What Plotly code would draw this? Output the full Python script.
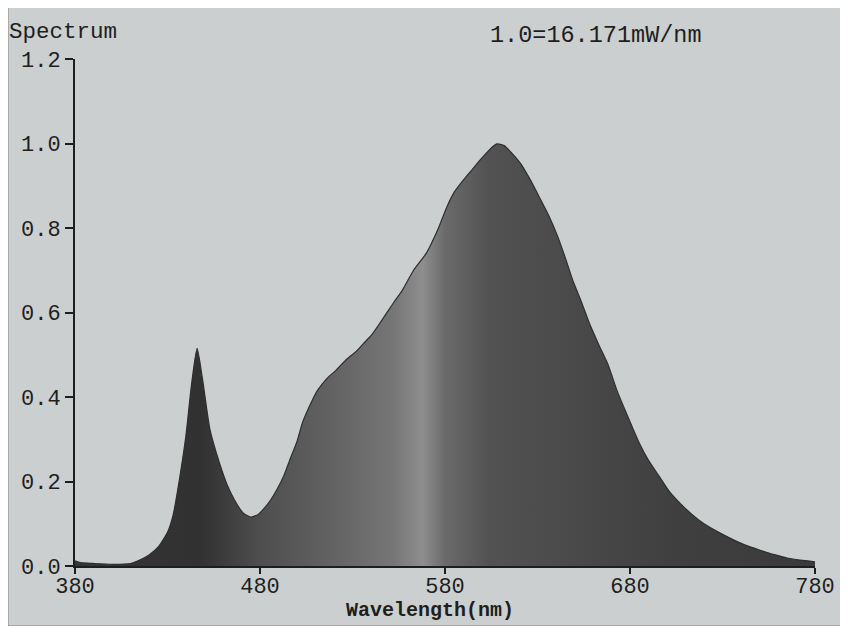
import plotly.graph_objects as go

wavelength = [380, 383, 390, 400, 410, 415, 420, 425, 430, 433, 437, 440, 443, 446,
              449, 453, 458, 462, 466, 471, 475, 479, 482, 486, 489, 493, 496, 500,
              503, 508, 511, 516, 521, 527, 532, 536, 540, 545, 552, 557, 563, 570,
              576, 581, 585, 590, 595, 599, 604, 608, 612, 616, 621, 626, 631, 636,
              641, 645, 649, 654, 658, 663, 668, 673, 678, 685, 690, 696, 701, 707,
              713, 720, 727, 734, 742, 750, 758, 765, 772, 780]
intensity = [0.012, 0.008, 0.006, 0.004, 0.006, 0.014, 0.026, 0.045, 0.08, 0.12, 0.22,
             0.31, 0.43, 0.515, 0.44, 0.322, 0.245, 0.195, 0.158, 0.125, 0.116, 0.122,
             0.135, 0.158, 0.18, 0.215, 0.25, 0.295, 0.34, 0.39, 0.415, 0.443, 0.463,
             0.49, 0.508, 0.527, 0.545, 0.576, 0.622, 0.653, 0.70, 0.741, 0.795, 0.85,
             0.885, 0.914, 0.94, 0.961, 0.985, 0.999, 0.995, 0.978, 0.952, 0.915,
             0.873, 0.83, 0.779, 0.73, 0.677, 0.622, 0.575, 0.525, 0.478, 0.415,
             0.362, 0.291, 0.25, 0.211, 0.178, 0.149, 0.124, 0.100, 0.082, 0.066,
             0.05, 0.038, 0.027, 0.019, 0.014, 0.01]

x_ticks = [380, 480, 580, 680, 780]
y_ticks = [0.0, 0.2, 0.4, 0.6, 0.8, 1.0, 1.2]
y_tick_labels = ["0.0", "0.2", "0.4", "0.6", "0.8", "1.0", "1.2"]

FONT = "Liberation Mono"
BG = "#cbcfcf"
INK = "#1e1e1e"

fig = go.Figure()
fig.add_trace(go.Scatter(
    x=wavelength, y=intensity, mode="lines",
    line=dict(color="#2e2e2e", width=1.2, shape="spline", smoothing=0.6),
    fill="tozeroy",
    fillgradient=dict(
        type="horizontal",
        colorscale=[[0.0, "#363636"], [0.17, "#313131"], [0.25, "#4e4e4e"],
                    [0.35, "#636363"], [0.43, "#767676"], [0.47, "#8e8e8e"],
                    [0.5, "#6a6a6a"], [0.56, "#525252"], [0.8, "#404040"],
                    [1.0, "#3a3a3a"]],
    ),
    hoverinfo="skip", showlegend=False,
))

# Page body has an 8px margin; the figure is sized so the plot area lands
# where the reference has it.
fig.update_layout(
    width=832, height=618,
    margin=dict(l=67, r=25, t=51, b=60, autoexpand=False),
    paper_bgcolor=BG, plot_bgcolor=BG,
    font=dict(family=FONT, size=22, color=INK),
    showlegend=False,
    xaxis=dict(
        range=[380, 780], tickvals=x_ticks, ticktext=[str(v) for v in x_ticks],
        showgrid=False, zeroline=False, showline=True, linecolor=INK,
        linewidth=2, ticks="outside", ticklen=6, tickwidth=2, tickcolor=INK,
        ticklabelstandoff=-7, automargin=False,
        tickfont=dict(family=FONT, size=22, color=INK),
    ),
    yaxis=dict(
        range=[0, 1.2], tickvals=y_ticks, ticktext=y_tick_labels,
        showgrid=False, zeroline=False, showline=True, linecolor=INK,
        linewidth=2, ticks="outside", ticklen=8, tickwidth=2, tickcolor=INK,
        automargin=False,
        tickfont=dict(family=FONT, size=22, color=INK),
    ),
    annotations=[
        dict(text="Spectrum", xref="paper", yref="paper", x=-0.092, y=1.053,
             xanchor="left", yanchor="middle", showarrow=False,
             font=dict(family=FONT, size=22.5, color=INK)),
        dict(text="1.0=16.171mW/nm", xref="paper", yref="paper", x=0.558, y=1.046,
             xanchor="left", yanchor="middle", showarrow=False,
             font=dict(family=FONT, size=23.5, color=INK)),
        dict(text="<b>Wavelength(nm)</b>", xref="paper", yref="paper", x=0.48, y=-0.087,
             xanchor="center", yanchor="middle", showarrow=False,
             font=dict(family=FONT, size=20, color=INK)),
    ],
    shapes=[
        dict(type="line", xref="paper", yref="paper", x0=-0.1, x1=1.1,
             y0=1.108, y1=1.108, line=dict(color="#3a3a3a", width=3)),
        dict(type="line", xref="paper", yref="paper", x0=-0.0915, x1=-0.0915,
             y0=-0.122, y1=1.108, line=dict(color="#555555", width=2)),
        dict(type="line", xref="paper", yref="paper", x0=-0.1, x1=1.1,
             y0=-0.121, y1=-0.121, line=dict(color="#3a3a3a", width=3)),
    ],
)

fig.write_html("out.html")
